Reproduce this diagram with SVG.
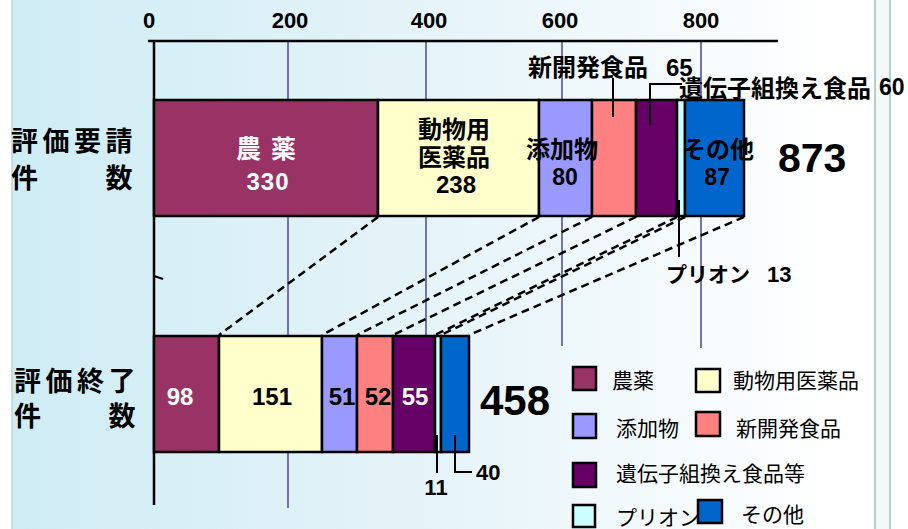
<svg xmlns="http://www.w3.org/2000/svg" width="908" height="529" viewBox="0 0 908 529">
<defs>
<linearGradient id="bg" x1="12" y1="0" x2="875" y2="0" gradientUnits="userSpaceOnUse">
<stop offset="0" stop-color="#cfecf5"/>
<stop offset="0.5" stop-color="#e6f4f9"/>
<stop offset="0.95" stop-color="#ffffff"/>
</linearGradient>
<style>
.jb{font-family:"Noto Sans CJK JP","Noto Sans CJK SC",sans-serif;font-weight:700}
.jr{font-family:"Noto Sans CJK JP","Noto Sans CJK SC",sans-serif;font-weight:400}
.nb{font-family:"Liberation Sans",Arial,sans-serif;font-weight:700}
.grid{stroke:#7474a8;stroke-width:2;fill:none}
.axis{stroke:#000;stroke-width:2.5;fill:none}
.seg{stroke:#000;stroke-width:2.5}
.dash{stroke:#000;stroke-width:2.5;stroke-dasharray:8 5;fill:none}
.lead{stroke:#000;stroke-width:2;fill:none}
.lg{stroke:#000;stroke-width:2.5}
</style>
</defs>
<rect x="0" y="0" width="908" height="529" fill="#ffffff"/>
<rect x="12" y="0" width="863" height="529" fill="url(#bg)"/>
<line x1="12" y1="0" x2="12" y2="529" stroke="#b9d6de" stroke-width="1.5"/>
<rect x="875" y="0" width="15" height="529" fill="#f3f9f9"/>
<line x1="875" y1="0" x2="875" y2="529" stroke="#b5cfcc" stroke-width="2"/>
<line x1="890" y1="0" x2="890" y2="529" stroke="#b5cfcc" stroke-width="2"/>

<g id="grid">
<line class="grid" x1="288" y1="41" x2="288" y2="508"/>
<line class="grid" x1="426" y1="41" x2="426" y2="336"/>
<line class="grid" x1="562" y1="41" x2="562" y2="346"/>
<line class="grid" x1="701" y1="41" x2="701" y2="348"/>
</g>
<g id="axis">
<line class="axis" x1="148" y1="41" x2="778" y2="41"/>
<line class="axis" x1="154" y1="41" x2="154" y2="505"/>
<line x1="154" y1="276" x2="163" y2="279" stroke="#000" stroke-width="2"/>
<text class="nb" font-size="22" x="149" y="28" text-anchor="middle">0</text>
<text class="nb" font-size="22" x="290" y="28" text-anchor="middle">200</text>
<text class="nb" font-size="22" x="429" y="28" text-anchor="middle">400</text>
<text class="nb" font-size="22" x="560" y="28" text-anchor="middle">600</text>
<text class="nb" font-size="22" x="701" y="28" text-anchor="middle">800</text>
</g>

<g id="connectors">
<line class="dash" x1="378" y1="217" x2="219" y2="335"/>
<line class="dash" x1="539" y1="217" x2="322" y2="335"/>
<line class="dash" x1="592" y1="217" x2="357" y2="335"/>
<line class="dash" x1="636" y1="217" x2="393" y2="335"/>
<line class="dash" x1="677" y1="217" x2="435" y2="335"/>
<line class="dash" x1="685" y1="217" x2="441" y2="335"/>
<line class="dash" x1="744" y1="217" x2="469" y2="335"/>
</g>

<g id="row-labels">
<text class="jb" font-size="27" letter-spacing="4.5" x="11" y="151">評価要請</text>
<text class="jb" font-size="27" letter-spacing="4.5" x="11" y="188">件　　数</text>
<text class="jb" font-size="27" letter-spacing="4.5" x="14" y="391">評価終了</text>
<text class="jb" font-size="27" letter-spacing="4.5" x="14" y="426">件　　数</text>
</g>

<g id="top-bar">
<g id="t-nouyaku">
<rect class="seg" x="154" y="100" width="224" height="116" fill="#993366"/>
<text class="jb" font-size="25" letter-spacing="10" x="236" y="158" fill="#ffffff">農薬</text>
<text class="nb" font-size="24" letter-spacing="1" x="268" y="190" text-anchor="middle" fill="#ffffff">330</text>
</g>
<g id="t-doubutsu">
<rect class="seg" x="378" y="100" width="161" height="116" fill="#ffffcc"/>
<text class="jb" font-size="24" x="454" y="138" text-anchor="middle">動物用</text>
<text class="jb" font-size="24" x="454" y="166" text-anchor="middle">医薬品</text>
<text class="nb" font-size="24" x="456" y="193" text-anchor="middle">238</text>
</g>
<g id="t-tenka">
<rect class="seg" x="539" y="100" width="53" height="116" fill="#9999ff"/>
</g>
<g id="t-shinkaihatsu">
<rect class="seg" x="592" y="100" width="44" height="116" fill="#ff8080"/>
</g>
<g id="t-idenshi">
<rect class="seg" x="636" y="100" width="41" height="116" fill="#660066"/>
</g>
<g id="t-prion">
<rect class="seg" x="677" y="100" width="8" height="116" fill="#ccffff"/>
</g>
<g id="t-sonota">
<rect class="seg" x="685" y="100" width="59" height="116" fill="#0066cc"/>
</g>
<text class="jb" font-size="24" x="562" y="158" text-anchor="middle">添加物</text>
<text class="nb" font-size="23" x="565" y="185" text-anchor="middle">80</text>
<text class="jb" font-size="24" x="718" y="158" text-anchor="middle">その他</text>
<text class="nb" font-size="23" x="717" y="185" text-anchor="middle">87</text>
<text class="nb" font-size="41" x="778" y="172">873</text>
</g>

<g id="top-callouts">
<text class="jb" font-size="24" x="528" y="76">新開発食品</text>
<text class="nb" font-size="24" x="666" y="76">65</text>
<polyline class="lead" points="613,78 613,117"/>
<text class="jb" font-size="24" x="679" y="97">遺伝子組換え食品</text>
<text class="nb" font-size="23" x="879" y="95">60</text>
<polyline class="lead" points="650,125 650,84 682,84"/>
<text class="jb" font-size="21" x="666" y="282">プリオン</text>
<text class="nb" font-size="22" x="767" y="282">13</text>
<polyline class="lead" points="679,200 679,257"/>
</g>

<g id="bottom-bar">
<g id="b-nouyaku">
<rect class="seg" x="154" y="336" width="65" height="116" fill="#993366"/>
<text class="nb" font-size="24" x="180" y="405" text-anchor="middle" fill="#ffffff">98</text>
</g>
<g id="b-doubutsu">
<rect class="seg" x="219" y="336" width="103" height="116" fill="#ffffcc"/>
<text class="nb" font-size="24" x="272" y="405" text-anchor="middle">151</text>
</g>
<g id="b-tenka">
<rect class="seg" x="322" y="336" width="35" height="116" fill="#9999ff"/>
<text class="nb" font-size="24" x="342" y="405" text-anchor="middle">51</text>
</g>
<g id="b-shinkaihatsu">
<rect class="seg" x="357" y="336" width="36" height="116" fill="#ff8080"/>
<text class="nb" font-size="24" x="378" y="405" text-anchor="middle">52</text>
</g>
<g id="b-idenshi">
<rect class="seg" x="393" y="336" width="42" height="116" fill="#660066"/>
<text class="nb" font-size="24" x="415" y="405" text-anchor="middle" fill="#ffffff">55</text>
</g>
<g id="b-prion">
<rect class="seg" x="435" y="336" width="6" height="116" fill="#ccffff"/>
</g>
<g id="b-sonota">
<rect class="seg" x="441" y="336" width="28" height="116" fill="#0066cc"/>
</g>
<text class="nb" font-size="42" x="480" y="415">458</text>
<polyline class="lead" points="437,435 437,473"/>
<text class="nb" font-size="22" x="436" y="495" text-anchor="middle">11</text>
<polyline class="lead" points="455,435 455,472 472,472"/>
<text class="nb" font-size="22" x="476" y="480">40</text>
</g>

<g id="legend">
<rect class="lg" x="573" y="367" width="23" height="23" fill="#993366"/>
<text class="jr" font-size="21" x="612" y="388">農薬</text>
<rect class="lg" x="696" y="369" width="24" height="23" fill="#ffffcc"/>
<text class="jr" font-size="21" x="733" y="388">動物用医薬品</text>
<rect class="lg" x="573" y="414" width="23" height="24" fill="#9999ff"/>
<text class="jr" font-size="21" x="616" y="436">添加物</text>
<rect class="lg" x="696" y="412" width="24" height="24" fill="#ff8080"/>
<text class="jr" font-size="21" x="736" y="436">新開発食品</text>
<rect class="lg" x="573" y="463" width="23" height="24" fill="#660066"/>
<text class="jr" font-size="21" x="616" y="481">遺伝子組換え食品等</text>
<rect class="lg" x="573" y="505" width="22" height="22" fill="#ccffff"/>
<text class="jr" font-size="21" x="616" y="525">プリオン</text>
<rect class="lg" x="698" y="500" width="24" height="23" fill="#0066cc"/>
<text class="jr" font-size="21" x="741" y="522">その他</text>
</g>
</svg>
